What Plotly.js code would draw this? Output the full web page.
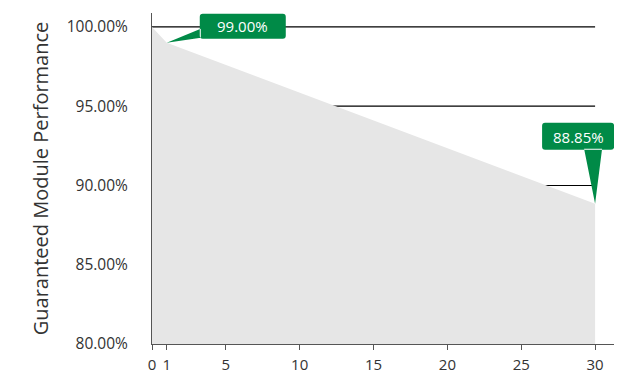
<!DOCTYPE html>
<html><head><meta charset="utf-8">
<script src="https://cdn.plot.ly/plotly-3.0.1.min.js"></script>
<style>html,body{margin:0;padding:0;background:#fff}#chart{width:632px;height:377px}</style>
</head><body><div id="chart"></div>
<script>
// Data
const years = [0, 1, 30];
const performance = [100, 99, 88.85];
const xTickVals = [0, 1, 5, 10, 15, 20, 25, 30];
const yTickVals = [80, 85, 90, 95, 100];
const gridLevels = [90, 95, 100];
const callouts = [
  {x: 1, y: 99, text: '99.00%'},
  {x: 30, y: 88.85, text: '88.85%'}
];

const green = '#008a47';
const font = 'Open Sans, sans-serif';

function boxPath(x0, x1, y0, y1, r) {
  return `M${x0+r},${y0} L${x1-r},${y0} Q${x1},${y0} ${x1},${y0+r} L${x1},${y1-r} Q${x1},${y1} ${x1-r},${y1} L${x0+r},${y1} Q${x0},${y1} ${x0},${y1-r} L${x0},${y0+r} Q${x0},${y0} ${x0+r},${y0} Z`;
}
const shapes = [];
gridLevels.forEach(v => shapes.push({
  type: 'line', xref: 'x', yref: 'y', x0: 0, x1: 30, y0: v, y1: v,
  line: {color: '#000', width: 1.2}, layer: 'below'
}));
shapes.push({type: 'path', xref: 'x', yref: 'y', xsizemode: 'pixel', ysizemode: 'pixel',
  xanchor: callouts[0].x, yanchor: callouts[0].y,
  path: boxPath(33, 119, 4, 29, 3) + ' M0,0 L34,14 L34,5 Z',
  fillcolor: green, line: {width: 0}, layer: 'above'});
shapes.push({type: 'path', xref: 'x', yref: 'y', xsizemode: 'pixel', ysizemode: 'pixel',
  xanchor: callouts[1].x, yanchor: callouts[1].y,
  path: boxPath(-53, 19, 54, 81, 3) + ' M0,0 L-11,55 L7,55 Z',
  fillcolor: green, line: {width: 0}, layer: 'above'});

const annotations = [
  {x: callouts[0].x, y: callouts[0].y, xref: 'x', yref: 'y', text: callouts[0].text,
   showarrow: false, xshift: 76, yshift: 17, font: {family: font, size: 15, color: '#fff'}},
  {x: callouts[1].x, y: callouts[1].y, xref: 'x', yref: 'y', text: callouts[1].text,
   showarrow: false, xshift: -17, yshift: 67, font: {family: font, size: 15, color: '#fff'}}
];

const trace = {
  x: years, y: performance, type: 'scatter', mode: 'lines',
  line: {width: 0, color: '#e6e6e6'}, fill: 'tozeroy', fillcolor: '#e6e6e6',
  hoverinfo: 'skip'
};

const layout = {
  width: 632, height: 377,
  margin: {l: 152, r: 18, t: 13, b: 33},
  paper_bgcolor: '#fff', plot_bgcolor: '#fff',
  showlegend: false,
  font: {family: font, color: '#333', size: 15},
  xaxis: {
    range: [0, 31.28], tickvals: xTickVals, ticktext: xTickVals.map(String),
    showgrid: false, zeroline: false, showline: true, linecolor: '#555', linewidth: 1,
    ticks: 'outside', ticklen: 5, tickcolor: '#555', ticklabelstandoff: 2,
    tickfont: {size: 15, color: '#333'}
  },
  yaxis: {
    range: [80, 100.88], tickvals: yTickVals,
    ticktext: yTickVals.map(v => v.toFixed(2) + '%'),
    showgrid: false, zeroline: false, showline: true, linecolor: '#555', linewidth: 1,
    ticks: '', ticklabelstandoff: 20, tickfont: {size: 15.5, color: '#333'},
    title: {text: 'Guaranteed Module Performance', font: {size: 20, color: '#333'}, standoff: 12}
  },
  shapes: shapes,
  annotations: annotations
};

Plotly.newPlot('chart', [trace], layout, {displayModeBar: false, staticPlot: true});
</script></body></html>
